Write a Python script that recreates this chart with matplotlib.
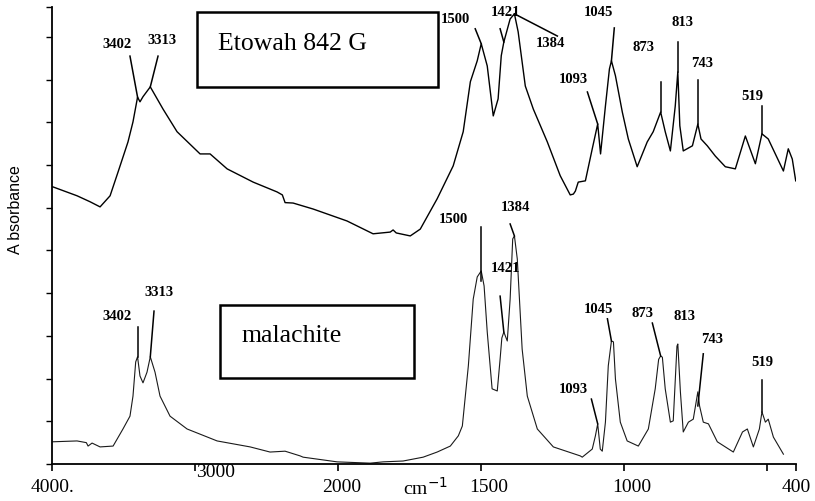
import numpy as np
import matplotlib
matplotlib.use("Agg")
import matplotlib.pyplot as plt
import matplotlib.transforms as mtransforms
from matplotlib.patches import Rectangle

# FTIR spectra, wavenumber (cm-1) vs absorbance (arbitrary, traces offset)
etowah_wn = [3995, 3825, 3734, 3664, 3594, 3538, 3469, 3434, 3402, 3385, 3364, 3313,
             3224, 3126, 2965, 2895, 2776, 2594, 2427, 2390, 2371, 2315, 2175, 1969,
             1878, 1818, 1808, 1797, 1748, 1713, 1654, 1598, 1563, 1538, 1514, 1500,
             1479, 1458, 1441, 1430, 1421, 1399, 1384, 1371, 1346, 1318, 1269, 1224,
             1189, 1178, 1171, 1161, 1136, 1112, 1093, 1083, 1066, 1052, 1045, 1031,
             1007, 986, 955, 920, 899, 873, 857, 839, 822, 813, 806, 794, 762, 743,
             732, 710, 682, 647, 612, 577, 542, 519, 497, 444, 427, 413, 401]
etowah_abs = [6.49, 6.28, 6.14, 6.02, 6.28, 6.84, 7.54, 8.01, 8.59, 8.48, 8.60, 8.83,
              8.31, 7.78, 7.26, 7.26, 6.91, 6.60, 6.37, 6.30, 6.12, 6.11, 5.97, 5.69,
              5.39, 5.43, 5.48, 5.41, 5.34, 5.50, 6.21, 6.98, 7.78, 8.95, 9.44, 9.84,
              9.32, 8.15, 8.55, 9.56, 9.88, 10.42, 10.54, 10.12, 8.85, 8.31, 7.54, 6.75,
              6.30, 6.32, 6.39, 6.60, 6.63, 7.38, 7.96, 7.26, 8.38, 9.25, 9.44, 9.09,
              8.24, 7.61, 6.96, 7.54, 7.78, 8.24, 7.78, 7.33, 8.38, 9.18, 7.92, 7.33,
              7.45, 7.96, 7.61, 7.45, 7.21, 6.96, 6.91, 7.68, 7.03, 7.73, 7.61, 6.86,
              7.38, 7.14, 6.63]

malachite_wn = [3995, 3825, 3760, 3748, 3720, 3664, 3573, 3504, 3455, 3434, 3415, 3402,
                3385, 3364, 3336, 3313, 3280, 3245, 3175, 3056, 2846, 2615, 2476, 2371,
                2266, 2245, 2007, 1888, 1843, 1773, 1703, 1654, 1608, 1580, 1566, 1545,
                1528, 1514, 1500, 1490, 1479, 1462, 1444, 1434, 1428, 1421, 1409, 1399,
                1390, 1384, 1374, 1357, 1339, 1304, 1248, 1154, 1147, 1112, 1101, 1093,
                1084, 1077, 1066, 1056, 1045, 1038, 1031, 1014, 990, 951, 916, 892, 880,
                873, 867, 857, 839, 829, 816, 813, 804, 794, 776, 759, 743, 737, 724,
                706, 675, 619, 587, 570, 549, 528, 519, 507, 497, 479, 444]
malachite_abs = [0.52, 0.54, 0.50, 0.42, 0.49, 0.40, 0.42, 0.82, 1.12, 1.59, 2.39, 2.51,
                 2.06, 1.90, 2.15, 2.51, 2.15, 1.59, 1.12, 0.82, 0.54, 0.40, 0.28, 0.30,
                 0.19, 0.16, 0.05, 0.02, 0.05, 0.07, 0.16, 0.28, 0.42, 0.66, 0.89, 2.30,
                 3.86, 4.38, 4.52, 4.17, 3.09, 1.76, 1.71, 2.46, 2.95, 3.09, 2.88, 3.86,
                 5.27, 5.34, 4.80, 2.69, 1.59, 0.82, 0.40, 0.19, 0.16, 0.35, 0.66, 0.94,
                 0.35, 0.30, 0.98, 2.30, 2.88, 2.86, 1.99, 0.98, 0.54, 0.42, 0.82, 1.76,
                 2.45, 2.53, 2.50, 1.76, 0.98, 1.01, 2.76, 2.81, 1.69, 0.75, 0.98, 1.05,
                 1.69, 1.36, 0.98, 0.94, 0.52, 0.28, 0.75, 0.82, 0.40, 0.82, 1.22, 0.98,
                 1.05, 0.63, 0.23]

peak_bands = [3402, 3313, 1500, 1421, 1384, 1093, 1045, 873, 813, 743, 519]

# label placement per band: (text wn, text abs, leader wn, leader abs, leader end abs)
etowah_marks = [(3545, 9.84, 3455, 9.55, None), (3231, 9.95, 3259, 9.55, None),
                (1591, 10.42, 1521, 10.19, None), (1416, 10.59, 1434, 10.19, None),
                (1259, 9.88, 1234, 10.02, None), (1178, 9.02, 1129, 8.71, None),
                (1091, 10.59, 1035, 10.21, None), (934, 9.77, 873, 8.95, None),
                (797, 10.35, 813, 9.88, None), (727, 9.41, 743, 8.99, None),
                (552, 8.62, 519, 8.38, None)]
malachite_marks = [(3545, 3.47, 3402, 3.21, None), (3252, 4.05, 3287, 3.58, None),
                   (1598, 5.74, 1500, 5.55, 4.29), (1416, 4.61, 1434, 3.93, None),
                   (1381, 6.02, 1399, 5.62, None), (1178, 1.76, 1115, 1.52, None),
                   (1091, 3.63, 1059, 3.40, None), (937, 3.54, 902, 3.30, None),
                   (790, 3.47, None, None, None), (692, 2.93, 724, 2.58, 1.36),
                   (517, 2.39, 519, 1.97, None)]

xtick_values = [4000, 3000, 2000, 1500, 1000, 500, 400]
xtick_text = ["4000.", "3000", "2000", "1500", "1000", "", "400"]
xtick_nudge = {"3000": (20, 15), "2000": (4, 0), "1500": (7, 0), "1000": (7, 0)}


# x axis is compressed by half above 2000 cm-1
def fwd(w):
    w = np.asarray(w, dtype=float)
    return np.where(w >= 2000, w, 2 * w - 2000)


def inv(u):
    u = np.asarray(u, dtype=float)
    return np.where(u >= 2000, u, (u + 2000) / 2)


serif = "Liberation Serif"
fig = plt.figure(figsize=(8.15, 5.02), dpi=100)
ax = fig.add_axes([52 / 815, 37 / 502, 744 / 815, 457 / 502])
ax.set_xscale("function", functions=(fwd, inv))
ax.set_xlim(4000, 400)
ax.set_ylim(0, 10.7)

ax.plot(etowah_wn, etowah_abs, color="black", lw=1.0)
ax.plot(malachite_wn, malachite_abs, color="#1a1a1a", lw=0.8)


def mark_peaks(wn, ab, marks):
    wn_up = np.asarray(wn)[::-1]
    ab_up = np.asarray(ab)[::-1]
    for band, (tx, ty, lx, ly, end) in zip(peak_bands, marks):
        ax.text(tx, ty, str(band), ha="center", va="center", family=serif,
                fontsize=10.5, fontweight="bold", clip_on=False)
        if lx is None:
            continue
        if end is None:
            end = np.interp(band, wn_up, ab_up)
        ax.plot([lx, band], [ly, end], color="black", lw=1.1, clip_on=False)


mark_peaks(etowah_wn, etowah_abs, etowah_marks)
mark_peaks(malachite_wn, malachite_abs, malachite_marks)

# sample name boxes
ax.add_patch(Rectangle((0.195, 0.825), 0.324, 0.164, transform=ax.transAxes,
                       fill=False, lw=1.8, ec="black", clip_on=False))
ax.text(0.223, 0.908, "Etowah 842 G", transform=ax.transAxes, family=serif,
        fontsize=18.5, va="baseline", ha="left")
ax.add_patch(Rectangle((0.226, 0.188), 0.261, 0.160, transform=ax.transAxes,
                       fill=False, lw=1.8, ec="black", clip_on=False))
ax.text(0.255, 0.269, "malachite", transform=ax.transAxes, family=serif,
        fontsize=18.5, va="baseline", ha="left")

# axes
for side in ["top", "right"]:
    ax.spines[side].set_visible(False)
for side in ["left", "bottom"]:
    ax.spines[side].set_linewidth(1.3)
ax.set_yticks(list(range(11)) + [10.7])
ax.set_yticklabels([])
ax.tick_params(axis="y", direction="out", length=4, width=1)
ax.set_xticks(xtick_values)
ax.set_xticklabels([])
ax.xaxis.set_minor_locator(plt.NullLocator())
ax.tick_params(axis="x", direction="out", length=5, width=1.2)

base = mtransforms.blended_transform_factory(ax.transData, ax.transAxes)
for val, txt in zip(xtick_values, xtick_text):
    dx, dy = xtick_nudge.get(txt, (0, 0))
    tr = base + mtransforms.ScaledTranslation(dx / 100, (dy - 23) / 100, fig.dpi_scale_trans)
    ax.text(val, 0, txt, transform=tr, ha="center", va="center", family=serif,
            fontsize=14, clip_on=False)
ax.text(1696, 0, "cm$^{-1}$", ha="center", va="center", family=serif, fontsize=14,
        transform=base + mtransforms.ScaledTranslation(0, -23 / 100, fig.dpi_scale_trans))

fig.text(15 / 815, 1 - 210 / 502, "A bsorbance", rotation=90, ha="center", va="center",
         family="Liberation Sans", fontsize=11.5)

fig.savefig("out.png", dpi=100)
